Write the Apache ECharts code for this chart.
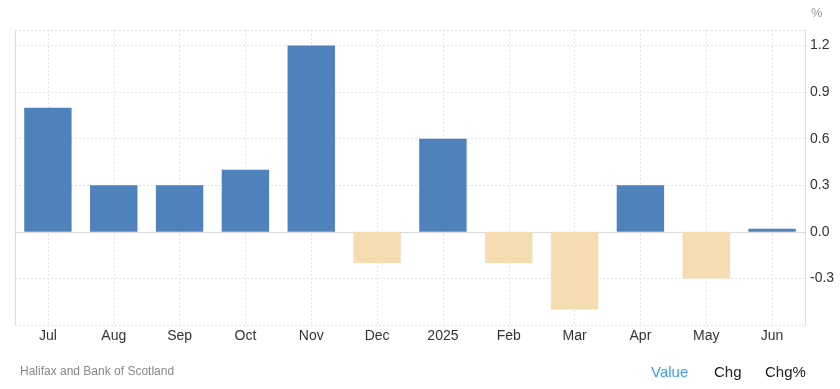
<!DOCTYPE html>
<html>
<head>
<meta charset="utf-8">
<script src="https://cdn.jsdelivr.net/npm/echarts@6/dist/echarts.min.js"></script>
<style>
html,body{margin:0;padding:0;background:#fff;}
#c{width:840px;height:389px;}
</style>
</head>
<body>
<div id="c"></div>
<script>
const categories = ['Jul','Aug','Sep','Oct','Nov','Dec','2025','Feb','Mar','Apr','May','Jun'];
const values = [0.8, 0.3, 0.3, 0.4, 1.2, -0.2, 0.6, -0.2, -0.5, 0.3, -0.3, 0.0];
const yTicks = ['-0.3','0.0','0.3','0.6','0.9','1.2'];

const POS = '#4f81bd', NEG = '#f5dcb1';
const chart = echarts.init(document.getElementById('c'), null, {renderer:'canvas'});
const font = 'Arial, "Liberation Sans", sans-serif';
chart.setOption({
  animation: false,
  grid: {left: 15, right: 35, top: 30, bottom: 64, containLabel: false},
  xAxis: {
    type: 'category',
    data: categories,
    axisLine: {show: true, lineStyle: {color: '#dcdcdc'}},
    axisTick: {show: false},
    axisLabel: {color: '#333', fontSize: 14, fontFamily: font, margin: 4, interval: 0},
    splitLine: {show: true, interval: 0, alignWithLabel: true, lineStyle: {color: '#e4e4e4', type: [2, 2]}}
  },
  yAxis: [{
    type: 'value',
    position: 'right',
    min: -0.6, max: 1.3, interval: 0.3,
    axisLine: {show: true, lineStyle: {color: '#dcdcdc'}},
    axisTick: {show: false},
    axisLabel: {
      color: '#333', fontSize: 14, fontFamily: font, margin: 5,
      formatter: function (v) {
        const s = v.toFixed(1);
        return yTicks.indexOf(s) >= 0 && Math.abs(v - 1.3) > 1e-6 ? s : '';
      }
    },
    splitLine: {show: true, lineStyle: {color: '#e4e4e4', type: [2, 2]}}
  }, {
    type: 'value',
    position: 'left',
    min: -0.6, max: 1.3, interval: 0.3,
    axisLine: {show: true, lineStyle: {color: '#dcdcdc'}},
    axisTick: {show: false},
    axisLabel: {show: false},
    splitLine: {show: false}
  }],
  series: [{
    type: 'bar',
    data: values.map(v => ({value: v, itemStyle: {color: v < 0 ? NEG : POS}})),
    barWidth: '72%',
    barMinHeight: 3
  }],
  graphic: [
    {type: 'text', left: 811, top: 7, style: {text: '%', fill: '#999', font: '13px ' + font}},
    {type: 'text', left: 20, top: 366, style: {text: 'Halifax and Bank of Scotland', fill: '#888', font: '12px ' + font}},
    {type: 'text', left: 651, top: 365, style: {text: 'Value', fill: '#3d9bf0', font: '15px ' + font}},
    {type: 'text', left: 714, top: 365, style: {text: 'Chg', fill: '#222', font: '15px ' + font}},
    {type: 'text', left: 765, top: 365, style: {text: 'Chg%', fill: '#222', font: '15px ' + font}}
  ]
});
</script>
</body>
</html>
